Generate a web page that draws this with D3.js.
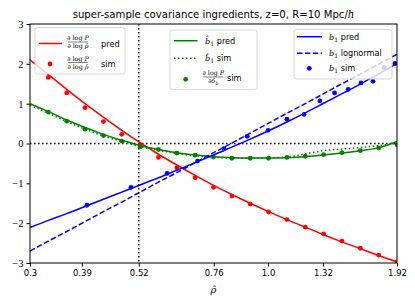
<!DOCTYPE html>
<html><head><meta charset="utf-8">
<script src="https://cdn.jsdelivr.net/npm/d3@7"></script>
<style>html,body{margin:0;padding:0;background:#fff;}svg{display:block;}</style>
</head><body>
<script>
// ---- data ----
const rho = [0.3,0.3292,0.3612,0.3963,0.4349,0.4772,0.5236,0.5745,0.6304,0.6917,0.7590,0.8328,0.9138,1.0027,1.1002,1.2072,1.3247,1.4535,1.5949,1.7500,1.92];
const rhoSim = [0.3292,0.3612,0.3963,0.4349,0.4772,0.5236,0.5745,0.6304,0.6917,0.7590,0.8328,0.9138,1.0027,1.1002,1.2072,1.3247,1.4535,1.5949,1.7500,1.92];
const dlnPpred = [2.10,1.73,1.36,1.00,0.66,0.33,0.02,-0.27,-0.54,-0.80,-1.05,-1.28,-1.50,-1.71,-1.91,-2.10,-2.29,-2.47,-2.64,-2.81,-2.97];
const dlnPsim = [1.66,1.27,0.90,0.55,0.23,-0.04,-0.35,-0.61,-0.86,-1.10,-1.32,-1.52,-1.72,-1.91,-2.10,-2.27,-2.45,-2.63,-2.80,-2.97];
const b1hatPred = [1.00,0.80,0.59,0.40,0.23,0.08,-0.05,-0.15,-0.23,-0.29,-0.33,-0.355,-0.365,-0.365,-0.355,-0.33,-0.29,-0.24,-0.18,-0.11,0.05];
const b1hatSim = [0.96,0.76,0.55,0.36,0.19,0.05,-0.08,-0.17,-0.25,-0.31,-0.345,-0.365,-0.37,-0.36,-0.34,-0.26,-0.18,-0.14,-0.10,-0.05,0.0];
const dlnPddbSim = [0.79,0.56,0.36,0.20,0.06,-0.085,-0.15,-0.24,-0.29,-0.34,-0.37,-0.37,-0.37,-0.35,-0.32,-0.28,-0.23,-0.18,-0.11,-0.03];
const b1Pred = [-2.11,-1.93,-1.76,-1.58,-1.40,-1.22,-1.04,-0.86,-0.67,-0.48,-0.29,-0.09,0.11,0.32,0.54,0.77,1.01,1.25,1.49,1.75,2.01];
const b1Lognormal = [-2.70,-2.45,-2.21,-1.96,-1.71,-1.47,-1.22,-0.97,-0.73,-0.48,-0.23,0.01,0.26,0.51,0.76,1.00,1.25,1.50,1.74,1.99,2.24];
const b1SimRho = [0.4,0.5,0.6,0.7,0.8,0.9,1.0,1.1,1.2,1.3,1.4,1.5,1.6,1.7,1.8,1.9];
const b1Sim = [-1.55,-1.10,-0.75,-0.44,-0.13,0.18,0.33,0.61,0.73,1.07,1.27,1.36,1.52,1.56,1.91,2.01];
const xTicks = [0.3,0.39,0.52,0.76,1.0,1.32,1.92];
const xTickLabels = ["0.3","0.39","0.52","0.76","1.0","1.32","1.92"];
const yTicks = [-3,-2,-1,0,1,2,3];
const titleText = "super-sample covariance ingredients, z=0, R=10 Mpc/";
const vline = 0.52;

// ---- layout ----
const W = 415, H = 303;
const m = {l:30, r:397, t:24, b:263};
const svg = d3.select("body").append("svg").attr("width",W).attr("height",H);
const x = d3.scaleLog().domain([0.3,1.92]).range([m.l,m.r]);
const y = d3.scaleLinear().domain([-3,3]).range([m.b,m.t]);
const RED="#ff0000", GREEN="#008000", BLUE="#0000ff";

svg.append("defs").append("clipPath").attr("id","clip")
  .append("rect").attr("x",m.l).attr("y",m.t).attr("width",m.r-m.l).attr("height",m.b-m.t);
const plot = svg.append("g").attr("clip-path","url(#clip)");

// reference dotted lines
plot.append("line").attr("x1",m.l).attr("x2",m.r).attr("y1",y(0)).attr("y2",y(0))
  .attr("stroke","#000").attr("stroke-width",1.5).attr("stroke-dasharray","1.5,2.5");
plot.append("line").attr("x1",x(vline)).attr("x2",x(vline)).attr("y1",m.t).attr("y2",m.b)
  .attr("stroke","#000").attr("stroke-width",1.5).attr("stroke-dasharray","1.5,2.5");

const line = (xs, ys) => d3.line().x((d,i)=>x(xs[i])).y(d=>y(d)).curve(d3.curveMonotoneX)(ys);
function path(xs, ys, color, dash){
  plot.append("path").attr("d", line(xs,ys)).attr("fill","none").attr("stroke",color)
    .attr("stroke-width",1.5).attr("stroke-dasharray",dash||null);
}
function dots(xs, ys, color){
  plot.selectAll(null).data(ys).enter().append("circle")
    .attr("cx",(d,i)=>x(xs[i])).attr("cy",d=>y(d)).attr("r",2.4).attr("fill",color);
}
path(rho, dlnPpred, RED);
dots(rhoSim, dlnPsim, RED);
path(rho, b1hatPred, GREEN);
path(rho, b1hatSim, GREEN, "1.5,2.5");
dots(rhoSim, dlnPddbSim, GREEN);
path(rho, b1Pred, BLUE);
path(rho, b1Lognormal, BLUE, "5.5,2.4");
dots(b1SimRho, b1Sim, BLUE);

// ---- axes frame ----
svg.append("rect").attr("x",m.l).attr("y",m.t).attr("width",m.r-m.l).attr("height",m.b-m.t)
  .attr("fill","none").attr("stroke","#000").attr("stroke-width",1);
const xa = svg.append("g").attr("transform",`translate(0,${m.b})`)
  .call(d3.axisBottom(x).tickValues(xTicks).tickFormat((d,i)=>xTickLabels[i]).tickSize(3.5).tickPadding(3));
xa.select(".domain").remove();
xa.selectAll("text").attr("font-family","DejaVu Sans").attr("font-size",8.5).attr("fill","#000");
const ya = svg.append("g").attr("transform",`translate(${m.l},0)`)
  .call(d3.axisLeft(y).tickValues(yTicks).tickFormat(d=> d<0 ? "\u2212"+Math.abs(d) : String(d)).tickSize(3.5).tickPadding(3));
ya.select(".domain").remove();
ya.selectAll("text").attr("font-family","Liberation Serif").attr("font-size",10.5).attr("fill","#000");

// title
const t = svg.append("text").attr("x",(m.l+m.r)/2).attr("y",18).attr("text-anchor","middle")
  .attr("font-family","DejaVu Sans").attr("font-size",10.1);
t.append("tspan").text(titleText);
t.append("tspan").attr("font-family","DejaVu Serif").attr("font-style","italic").text("h");

// x label
svg.append("text").attr("x",(m.l+m.r)/2).attr("y",293).attr("text-anchor","middle")
  .attr("font-family","DejaVu Serif").attr("font-style","italic").attr("font-size",10).text("\u03C1\u0302");

// ---- legends ----
function box(x0,y0,x1,y1){
  svg.append("rect").attr("x",x0).attr("y",y0).attr("width",x1-x0).attr("height",y1-y0)
    .attr("rx",2.5).attr("fill","#fff").attr("fill-opacity",0.8).attr("stroke","#cccccc").attr("stroke-width",0.8);
}
function lsample(x0,x1,yy,color,dash){
  svg.append("line").attr("x1",x0).attr("x2",x1).attr("y1",yy).attr("y2",yy).attr("stroke",color)
    .attr("stroke-width",1.5).attr("stroke-dasharray",dash||null);
}
function dsample(cx,cy,color){ svg.append("circle").attr("cx",cx).attr("cy",cy).attr("r",2.4).attr("fill",color); }
function label(x0,yy,parts){
  const tx = svg.append("text").attr("x",x0).attr("y",yy+3).attr("font-size",8.2).attr("font-family","DejaVu Sans");
  parts.forEach(p=>{
    const s = tx.append("tspan").text(p.t);
    if(p.it){ s.attr("font-family","DejaVu Serif").attr("font-style","italic"); }
    if(p.sub){ s.attr("font-family","DejaVu Serif").attr("font-size",6).attr("baseline-shift","-2"); }
  });
}
function frac(cx,cy,num,den,w){
  const g = svg.append("g").attr("font-family","DejaVu Serif").attr("font-size",6.3);
  const n = g.append("text").attr("x",cx).attr("y",cy-1.8).attr("text-anchor","middle");
  num.forEach(p=>{ const s=n.append("tspan").text(p.t); if(p.it) s.attr("font-style","italic"); if(p.sub) s.attr("font-size",4.5).attr("baseline-shift","-1.5"); });
  g.append("line").attr("x1",cx-w/2).attr("x2",cx+w/2).attr("y1",cy).attr("y2",cy).attr("stroke","#000").attr("stroke-width",0.5);
  const d = g.append("text").attr("x",cx).attr("y",cy+6.3).attr("text-anchor","middle");
  den.forEach(p=>{ const s=d.append("tspan").text(p.t); if(p.it) s.attr("font-style","italic"); if(p.sub) s.attr("font-size",4.5).attr("baseline-shift","-1.5"); });
}
const numP = [{t:"\u2202 log "},{t:"P",it:true}];
const denRho = [{t:"\u2202 log "},{t:"\u03C1\u0302",it:true}];

// left legend
box(35,27.5,125,74);
lsample(39,62,43.5,RED);
frac(78,42,numP,denRho,20);
label(101,43.5,[{t:"pred"}]);
dsample(50,64,RED);
frac(78,62.5,numP,denRho,20);
label(101,63.5,[{t:"sim"}]);

// middle legend
box(170,30,257,89.5);
lsample(174,197.5,40.7,GREEN);
label(205,40.7,[{t:"b\u0302",it:true},{t:"1",sub:true},{t:"  pred"}]);
lsample(174,197.5,58.3,GREEN,"1.5,2.5");
label(205,58.3,[{t:"b\u0302",it:true},{t:"1",sub:true},{t:"  sim"}]);
dsample(185.7,79.3,GREEN);
frac(213.3,77,numP,[{t:"\u2202"},{t:"\u03B4",it:true},{t:"b",it:true,sub:true}],20);
label(227,78,[{t:"sim"}]);

// right legend
box(294,29.5,392,79);
lsample(297,322,36.7,BLUE);
label(329,36.7,[{t:"b",it:true},{t:"1",sub:true},{t:"  pred"}]);
lsample(297,322,53.3,BLUE,"5.5,2.4");
label(329,53.3,[{t:"b",it:true},{t:"1",sub:true},{t:"  lognormal"}]);
dsample(309.3,68.3,BLUE);
label(329,68.3,[{t:"b",it:true},{t:"1",sub:true},{t:"  sim"}]);
</script>
</body></html>
